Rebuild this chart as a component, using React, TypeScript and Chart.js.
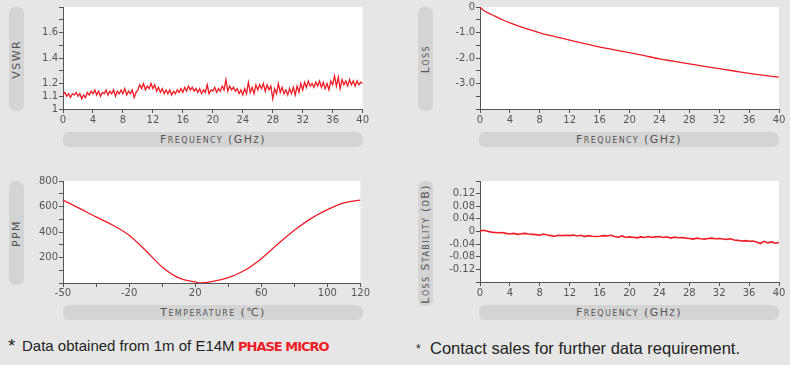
import React, { useEffect, useRef } from "react";
import { Chart, registerables } from "chart.js";

Chart.register(...registerables);

// ---------------- Data ----------------
// VSWR vs frequency (sampled every 0.25 GHz from 0 to 40 GHz)
const vswrFreqStepGHz = 0.25;
const vswrValues = [
  1.11, 1.13, 1.10, 1.12, 1.09, 1.12, 1.11, 1.13,
  1.10, 1.12, 1.08, 1.11, 1.09, 1.13, 1.11, 1.14,
  1.12, 1.15, 1.11, 1.14, 1.10, 1.13, 1.12, 1.15,
  1.11, 1.14, 1.12, 1.15, 1.10, 1.14, 1.12, 1.15,
  1.12, 1.16, 1.11, 1.14, 1.12, 1.15, 1.09, 1.13,
  1.15, 1.19, 1.16, 1.20, 1.15, 1.18, 1.16, 1.20,
  1.16, 1.19, 1.14, 1.17, 1.13, 1.16, 1.12, 1.15,
  1.12, 1.15, 1.11, 1.14, 1.12, 1.15, 1.13, 1.16,
  1.13, 1.17, 1.14, 1.18, 1.15, 1.17, 1.14, 1.16,
  1.13, 1.16, 1.12, 1.15, 1.13, 1.19, 1.12, 1.15,
  1.14, 1.17, 1.13, 1.16, 1.14, 1.18, 1.15, 1.23,
  1.14, 1.18, 1.15, 1.17, 1.14, 1.16, 1.12, 1.15,
  1.11, 1.16, 1.12, 1.21, 1.13, 1.17, 1.12, 1.19,
  1.15, 1.19, 1.16, 1.20, 1.14, 1.19, 1.15, 1.18,
  1.08, 1.16, 1.12, 1.20, 1.13, 1.17, 1.12, 1.15,
  1.11, 1.16, 1.12, 1.17, 1.11, 1.18, 1.13, 1.20,
  1.15, 1.21, 1.17, 1.22, 1.18, 1.20, 1.17, 1.21,
  1.18, 1.22, 1.17, 1.21, 1.16, 1.20, 1.15, 1.22,
  1.19, 1.26, 1.18, 1.25, 1.16, 1.23, 1.19, 1.22,
  1.18, 1.23, 1.19, 1.22, 1.18, 1.22, 1.19, 1.21,
  1.20,
];
const vswrYTickLabels = [1, 1.1, 1.2, 1.4, 1.6];

// Insertion loss vs frequency
const lossFreqGHz = [0, 0.5, 1, 2, 3, 4, 6, 8, 10, 12, 14, 16, 18, 20, 22, 24, 26, 28, 30, 32, 34, 36, 38, 40];
const lossDb = [0, -0.14, -0.22, -0.36, -0.5, -0.62, -0.83, -1.01, -1.16, -1.3, -1.44, -1.57, -1.68, -1.79, -1.91, -2.03, -2.13, -2.23, -2.33, -2.42, -2.51, -2.6, -2.68, -2.75];
const lossYTickLabels = [0, -1, -2, -3];

// Phase vs temperature (PPM)
const tempAxisTicks = [-50, -35, -20, 0, 20, 40, 60, 80, 100, 120];
const tempTickLabels = ["-50", "", "-20", "", "20", "", "60", "", "100", "120"];
const tempC = [-50, -42.5, -35, -27.5, -20, -10, 0, 10, 20, 23, 30, 40, 50, 60, 70, 80, 90, 100, 110, 120];
const ppmValues = [650, 585, 518, 455, 374, 255, 126, 40, 8, 0, 10, 42, 100, 191, 305, 413, 505, 575, 628, 650];
const ppmYTickLabels = [200, 400, 600, 800];

// Loss stability vs frequency (sampled every 0.5 GHz)
const stabFreqStepGHz = 0.5;
const stabDb = [
  0.002, 0.004, 0.001, -0.002, -0.003, -0.004, -0.003, -0.006,
  -0.008, -0.006, -0.009, -0.007, -0.006, -0.008, -0.009, -0.01,
  -0.012, -0.008, -0.011, -0.013, -0.015, -0.012, -0.013, -0.012,
  -0.013, -0.011, -0.014, -0.012, -0.016, -0.013, -0.015, -0.016,
  -0.015, -0.013, -0.014, -0.012, -0.016, -0.018, -0.014, -0.019,
  -0.017, -0.018, -0.02, -0.017, -0.019, -0.016, -0.018, -0.017,
  -0.016, -0.019, -0.017, -0.021, -0.018, -0.02, -0.019, -0.021,
  -0.022, -0.024, -0.021, -0.023, -0.024, -0.022, -0.021, -0.023,
  -0.022, -0.024, -0.025, -0.023, -0.027, -0.028, -0.03, -0.029,
  -0.031, -0.03, -0.033, -0.038, -0.031, -0.036, -0.033, -0.037,
  -0.035,
];
const stabYTickLabels = [0.12, 0.08, 0.04, 0, -0.04, -0.08, -0.12];

// ---------------- Styling ----------------
const RED = "#ee1c25";
const AXIS = "#555555";
const TEXT = "#555555";
const BG = "#e6e6e6";
const PILL = "#d4d4d4";
const TICK_FONT = { family: "'DejaVu Sans', sans-serif", size: 10 };

const near = (a: number, b: number) => Math.abs(a - b) < 1e-6;

function tempToPos(t: number) {
  for (let i = 0; i < tempAxisTicks.length - 1; i++) {
    const a = tempAxisTicks[i];
    const b = tempAxisTicks[i + 1];
    if (t >= a && t <= b) return i + (t - a) / (b - a);
  }
  return t < tempAxisTicks[0] ? 0 : tempAxisTicks.length - 1;
}

const whiteArea = {
  id: "whiteArea",
  beforeDraw(chart: any) {
    const { ctx, chartArea } = chart;
    ctx.save();
    ctx.fillStyle = "#ffffff";
    ctx.fillRect(chartArea.left, chartArea.top, chartArea.right - chartArea.left, chartArea.bottom - chartArea.top);
    ctx.restore();
  },
};

type Box = { left: number; top: number; width: number; height: number };
type Area = { left: number; top: number; right: number; bottom: number };

type Spec = {
  canvas: Box;
  area: Area;
  points: { x: number; y: number }[];
  smooth: boolean;
  lineWidth: number;
  xMin: number;
  xMax: number;
  xStep: number;
  xLabel: (v: number) => string;
  xPad: number;
  yMin: number;
  yMax: number;
  yStep: number;
  yLabel: (v: number) => string;
};

function ChartBox({ spec }: { spec: Spec }) {
  const ref = useRef<HTMLCanvasElement | null>(null);
  useEffect(() => {
    if (!ref.current) return;
    const { canvas, area } = spec;
    const yW = area.left - canvas.left;
    const xH = canvas.top + canvas.height - area.bottom;
    const padTop = area.top - canvas.top;
    const padRight = canvas.left + canvas.width - area.right;
    const chart = new Chart(ref.current, {
      type: "line",
      data: {
        datasets: [
          {
            data: spec.points,
            borderColor: RED,
            borderWidth: spec.lineWidth,
            pointRadius: 0,
            fill: false,
            tension: spec.smooth ? 0.4 : 0,
            cubicInterpolationMode: spec.smooth ? "monotone" : "default",
          } as any,
        ],
      },
      options: {
        responsive: false,
        animation: false,
        events: [],
        layout: { autoPadding: false, padding: { top: padTop, right: padRight, left: 0, bottom: 0 } } as any,
        plugins: { legend: { display: false }, tooltip: { enabled: false } },
        scales: {
          x: {
            type: "linear",
            min: spec.xMin,
            max: spec.xMax,
            ticks: {
              stepSize: spec.xStep,
              autoSkip: false,
              maxRotation: 0,
              minRotation: 0,
              padding: spec.xPad,
              color: TEXT,
              font: TICK_FONT,
              callback: (v: any) => spec.xLabel(Number(v)),
            },
            grid: { drawOnChartArea: false, drawTicks: true, tickLength: 4, color: AXIS },
            border: { color: AXIS, width: 1 },
            afterFit: (s: any) => {
              s.height = xH;
            },
          },
          y: {
            type: "linear",
            min: spec.yMin,
            max: spec.yMax,
            ticks: {
              stepSize: spec.yStep,
              autoSkip: false,
              padding: 1,
              color: TEXT,
              font: TICK_FONT,
              callback: (v: any) => spec.yLabel(Number(v)),
            },
            grid: { drawOnChartArea: false, drawTicks: true, tickLength: 4, color: AXIS },
            border: { color: AXIS, width: 1 },
            afterFit: (s: any) => {
              s.width = yW;
            },
          },
        },
      } as any,
      plugins: [whiteArea],
    });
    return () => chart.destroy();
  }, [spec]);
  const { canvas } = spec;
  return (
    <canvas
      ref={ref}
      width={canvas.width}
      height={canvas.height}
      style={{ position: "absolute", left: canvas.left, top: canvas.top, width: canvas.width, height: canvas.height }}
    />
  );
}

function Pill({ box, text, vertical }: { box: Box; text: string; vertical?: boolean }) {
  return (
    <div
      style={{
        position: "absolute",
        left: box.left,
        top: box.top,
        width: box.width,
        height: box.height,
        background: PILL,
        borderRadius: 6,
        display: "flex",
        alignItems: "center",
        justifyContent: "center",
        overflow: "hidden",
      }}
    >
      <span
        style={{
          fontFamily: "'DejaVu Sans', sans-serif",
          fontSize: 11,
          fontVariant: "small-caps",
          letterSpacing: 1.4,
          color: TEXT,
          whiteSpace: "nowrap",
          lineHeight: 1,
          writingMode: vertical ? ("vertical-rl" as any) : undefined,
          transform: vertical ? "rotate(180deg)" : undefined,
        }}
      >
        {text}
      </span>
    </div>
  );
}

const specs: Spec[] = [
  {
    canvas: { left: 25, top: 0, width: 345, height: 130 },
    area: { left: 63, top: 7, right: 363, bottom: 109 },
    points: vswrValues.map((y, i) => ({ x: i * vswrFreqStepGHz, y })),
    smooth: false,
    lineWidth: 1.3,
    xMin: 0,
    xMax: 40,
    xStep: 4,
    xLabel: (v) => String(Math.round(v)),
    xPad: 1,
    yMin: 1,
    yMax: 1.8,
    yStep: 0.1,
    yLabel: (v) => {
      const r = Math.round(v * 10) / 10;
      return vswrYTickLabels.some((t) => near(t, r)) ? String(r) : "";
    },
  },
  {
    canvas: { left: 438, top: 0, width: 350, height: 130 },
    area: { left: 480, top: 7, right: 779, bottom: 109 },
    points: lossDb.map((y, i) => ({ x: lossFreqGHz[i], y })),
    smooth: true,
    lineWidth: 1.3,
    xMin: 0,
    xMax: 40,
    xStep: 4,
    xLabel: (v) => String(Math.round(v)),
    xPad: 1,
    yMin: -4,
    yMax: 0,
    yStep: 0.5,
    yLabel: (v) => {
      const r = Math.round(v * 10) / 10;
      if (!lossYTickLabels.some((t) => near(t, r))) return "";
      return near(r, 0) ? "0" : r.toFixed(1);
    },
  },
  {
    canvas: { left: 25, top: 170, width: 345, height: 135 },
    area: { left: 63, top: 181, right: 363, bottom: 283 },
    points: ppmValues.map((y, i) => ({ x: tempToPos(tempC[i]), y })),
    smooth: true,
    lineWidth: 1.3,
    xMin: 0,
    xMax: tempAxisTicks.length - 1,
    xStep: 1,
    xLabel: (v) => tempTickLabels[Math.round(v)] ?? "",
    xPad: 0,
    yMin: 0,
    yMax: 800,
    yStep: 100,
    yLabel: (v) => (ppmYTickLabels.some((t) => near(t, v)) ? String(Math.round(v)) : ""),
  },
  {
    canvas: { left: 438, top: 170, width: 350, height: 135 },
    area: { left: 480, top: 181, right: 779, bottom: 282 },
    points: stabDb.map((y, i) => ({ x: i * stabFreqStepGHz, y })),
    smooth: false,
    lineWidth: 1.6,
    xMin: 0,
    xMax: 40,
    xStep: 4,
    xLabel: (v) => String(Math.round(v)),
    xPad: 1,
    yMin: -0.16,
    yMax: 0.16,
    yStep: 0.04,
    yLabel: (v) => {
      const r = Math.round(v * 100) / 100;
      if (!stabYTickLabels.some((t) => near(t, r))) return "";
      return near(r, 0) ? "0" : r.toFixed(2);
    },
  },
];

export default function App() {
  return (
    <div
      style={{
        position: "absolute",
        left: 0,
        top: 0,
        width: 790,
        height: 365,
        background: BG,
        overflow: "hidden",
      }}
    >
      <Pill box={{ left: 9, top: 7, width: 15, height: 104 }} text="VSWR" vertical />
      <Pill box={{ left: 63, top: 132, width: 300, height: 15 }} text="Frequency (GHz)" />
      <Pill box={{ left: 418, top: 7, width: 15, height: 104 }} text="Loss" vertical />
      <Pill box={{ left: 479, top: 132, width: 300, height: 15 }} text="Frequency (GHz)" />
      <Pill box={{ left: 9, top: 181, width: 15, height: 104 }} text="PPM" vertical />
      <Pill box={{ left: 63, top: 305, width: 300, height: 15 }} text="Temperature (℃)" />
      <Pill box={{ left: 418, top: 181, width: 15, height: 125 }} text="Loss Stability (dB)" vertical />
      <Pill box={{ left: 479, top: 305, width: 300, height: 15 }} text="Frequency (GHz)" />

      {specs.map((s, i) => (
        <ChartBox key={i} spec={s} />
      ))}

      <div style={{ position: "absolute", left: 8, top: 336, fontFamily: "'Liberation Sans', Arial, sans-serif", fontSize: 19, lineHeight: "20px", color: "#222" }}>
        *
      </div>
      <div style={{ position: "absolute", left: 22, top: 337, fontFamily: "'Liberation Sans', Arial, sans-serif", fontSize: 15, lineHeight: "18px", color: "#222", whiteSpace: "nowrap" }}>
        Data obtained from 1m of E14M
      </div>
      <div style={{ position: "absolute", left: 238, top: 339, fontFamily: "'DejaVu Sans', sans-serif", fontWeight: "bold", fontSize: 13, lineHeight: "16px", letterSpacing: -1, color: RED, whiteSpace: "nowrap" }}>
        PHASE MICRO
      </div>
      <div style={{ position: "absolute", left: 416, top: 342, fontFamily: "'Liberation Sans', Arial, sans-serif", fontSize: 12, lineHeight: "14px", color: "#222" }}>
        *
      </div>
      <div style={{ position: "absolute", left: 430, top: 338, fontFamily: "'Liberation Sans', Arial, sans-serif", fontSize: 16.5, lineHeight: "20px", color: "#222", whiteSpace: "nowrap" }}>
        Contact sales for further data requirement.
      </div>
    </div>
  );
}
